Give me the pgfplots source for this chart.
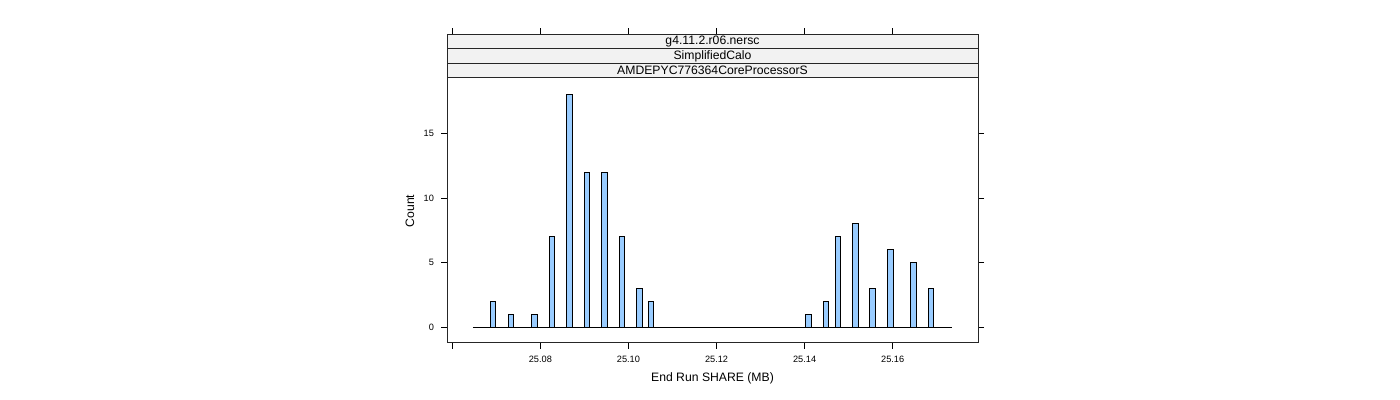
\documentclass[border=0pt]{standalone}
\usepackage{fontspec}
\setmainfont{Liberation Sans}
\usepackage{pgfplots}
\pgfplotsset{compat=1.18}
\definecolor{barfill}{HTML}{99CCFF}
\definecolor{stripbg}{HTML}{F2F2F2}
\begin{document}
\begin{tikzpicture}[x=0.5pt,y=0.5pt]
\path[use as bounding box] (0,0) rectangle (1400,400);
\begin{axis}[
  at={(223.5pt,28.5pt)}, anchor=south west,
  scale only axis, width=265.5pt, height=132.5pt,
  xmin=25.0588, xmax=25.17937, ymin=-1.21, ymax=19.30,
  axis line style={black!85, line width=0.5pt},
  xtick={25.06,25.08,25.10,25.12,25.14,25.16},
  xticklabels={,25.08,25.10,25.12,25.14,25.16},
  ytick={0,5,10,15}, yticklabels={0,5,10,15},
  xtick pos=left, ytick pos=both,
  tick align=outside, major tick length=3pt,
  tick style={black, line width=0.5pt},
  ticklabel style={font=\fontsize{4.6}{5}\selectfont},
  yticklabel pos=left,
]
\addplot[black, line width=0.5pt] coordinates {(25.0647,0) (25.1734,0)};
\addplot[ybar, bar width=0.00132, fill=barfill, draw=black, line width=0.5pt] coordinates {
 (25.06926,2) (25.07334,1) (25.07868,1) (25.08266,7) (25.08663,18) (25.0906,12) (25.09457,12) (25.09855,7) (25.10252,3) (25.10513,2)
 (25.14089,1) (25.14486,2) (25.14758,7) (25.15151,8) (25.15546,3) (25.15946,6) (25.16472,5) (25.16869,3)
};
\end{axis}
% strips
\foreach \yb/\yt/\txt in {322.2/336.7/AMDEPYC776364CoreProcessorS, 336.7/351.2/SimplifiedCalo, 351.2/365.7/g4.11.2.r06.nersc} {
  \draw[fill=stripbg, draw=black!85, line width=0.5pt] (447,\yb) rectangle (978,\yt);
  \node[font=\fontsize{6.1}{7}\selectfont, inner sep=0pt] at (712.5,{(\yb+\yt)/2}) {\txt};
}
% top ticks
\foreach \xx in {452.3,540.3,628.4,716.5,804.6,892.7} {
  \draw[black, line width=0.5pt] (\xx,365.7) -- (\xx,371.7);
}
\node[font=\fontsize{6.1}{7}\selectfont, inner sep=0pt] at (712.5,22) {End Run SHARE (MB)};
\node[font=\fontsize{6.1}{7}\selectfont, inner sep=0pt, rotate=90] at (410,189) {Count};
\end{tikzpicture}
\end{document}
